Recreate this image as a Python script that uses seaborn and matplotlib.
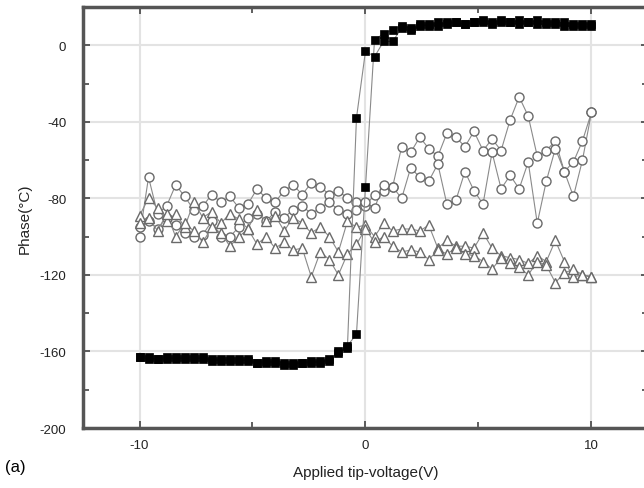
import pandas as pd
import matplotlib.pyplot as plt
import seaborn as sns
from matplotlib.ticker import MultipleLocator

# applied tip voltage (V), one sweep
voltage = [-10.0, -9.6, -9.2, -8.8, -8.4, -8.0, -7.6, -7.2, -6.8, -6.4,
           -6.0, -5.6, -5.2, -4.8, -4.4, -4.0, -3.6, -3.2, -2.8, -2.4,
           -2.0, -1.6, -1.2, -0.8, -0.4, 0.0, 0.4, 0.8, 1.2, 1.6,
           2.0, 2.4, 2.8, 3.2, 3.6, 4.0, 4.4, 4.8, 5.2, 5.6,
           6.0, 6.4, 6.8, 7.2, 7.6, 8.0, 8.4, 8.8, 9.2, 9.6, 10.0]

# filled squares: forward and reverse sweep
square_fwd = [-163, -164, -164, -163, -164, -163, -163, -164, -164, -165,
              -164, -164, -165, -166, -165, -166, -167, -166, -166, -166,
              -165, -165, -160, -157, -151, -74, 3, 6, 8, 10,
              9, 11, 10, 12, 11, 12, 11, 12, 13, 12,
              13, 12, 13, 12, 13, 12, 12, 12, 11, 11, 11]
square_rev = [-163, -163, -164, -164, -163, -164, -164, -163, -165, -164,
              -165, -165, -164, -166, -166, -165, -166, -167, -166, -165,
              -166, -164, -161, -158, -38, -3, -6, 2, 2, 9,
              8, 10, 11, 10, 12, 12, 11, 12, 12, 11,
              12, 12, 11, 12, 11, 11, 11, 10, 10, 10, 10]

# open circles
circle_fwd = [-100, -69, -88, -84, -73, -79, -86, -84, -78, -82,
              -79, -85, -83, -75, -80, -82, -76, -73, -78, -72,
              -74, -78, -76, -80, -82, -84, -78, -76, -74, -53,
              -56, -48, -54, -58, -46, -48, -53, -45, -55, -49,
              -55, -39, -27, -37, -58, -55, -50, -66, -61, -50, -35]
circle_rev = [-95, -92, -96, -90, -94, -98, -100, -99, -92, -100,
              -100, -95, -90, -88, -92, -87, -90, -86, -84, -88,
              -85, -82, -86, -88, -86, -82, -85, -73, -74, -80,
              -64, -69, -71, -62, -83, -81, -66, -76, -83, -56,
              -75, -68, -75, -61, -93, -71, -54, -66, -79, -60, -35]

# open triangles
triangle_fwd = [-89, -80, -85, -92, -88, -95, -82, -90, -87, -93,
                -88, -91, -96, -86, -92, -89, -97, -90, -93, -98,
                -95, -100, -108, -92, -95, -94, -100, -93, -97, -96,
                -96, -97, -94, -106, -102, -105, -105, -106, -98, -106,
                -110, -111, -112, -114, -110, -113, -102, -113, -121, -120, -121]
triangle_rev = [-93, -90, -97, -88, -100, -93, -97, -103, -95, -98,
                -105, -100, -96, -104, -100, -106, -103, -107, -106, -121,
                -108, -112, -120, -109, -104, -96, -103, -100, -105, -108,
                -107, -108, -112, -107, -109, -106, -109, -110, -113, -117,
                -111, -114, -116, -120, -113, -115, -124, -119, -117, -120, -121]


def loop(fwd, rev):
    # forward sweep -10 -> 10, then back 10 -> -10
    v = voltage + voltage[::-1]
    p = fwd + rev[::-1]
    return pd.DataFrame({"V": v, "phase": p})


sns.set_style("white")
plt.rcParams["font.family"] = ["Liberation Sans", "DejaVu Sans"]
plt.rcParams["axes.unicode_minus"] = False

fig = plt.figure(figsize=(6.44, 4.89), dpi=100)
ax = fig.add_axes([83 / 644, 1 - 429 / 489, 565 / 644, 421 / 489])

line_col = "#8a8a8a"
for fwd, rev, mk in [(circle_fwd, circle_rev, "o"), (triangle_fwd, triangle_rev, "^")]:
    sns.lineplot(data=loop(fwd, rev), x="V", y="phase", sort=False, estimator=None,
                 ax=ax, color=line_col, lw=0.8, marker=mk, markersize=6.5,
                 markerfacecolor="white", markeredgecolor="#6a6a6a",
                 markeredgewidth=1.0, zorder=2)

sns.lineplot(data=loop(square_fwd, square_rev), x="V", y="phase", sort=False,
             estimator=None, ax=ax, color=line_col, lw=0.8, marker="s",
             markersize=5.5, markerfacecolor="black", markeredgecolor="black",
             markeredgewidth=0.5, zorder=3)

ax.set_xlim(-12.5, 12.5)
ax.set_ylim(-200, 20)
ax.xaxis.set_major_locator(MultipleLocator(10))
ax.xaxis.set_minor_locator(MultipleLocator(5))
ax.yaxis.set_major_locator(MultipleLocator(40))
ax.yaxis.set_minor_locator(MultipleLocator(20))
ax.grid(True, which="major", color="#e3e3e3", lw=1.5, zorder=0)
ax.set_axisbelow(True)

ax.tick_params(which="both", direction="in", top=True, right=True, bottom=True,
               left=True, color="#444444", labelcolor="#222222", labelsize=9.5)
ax.tick_params(which="major", length=5, width=1.2)
ax.tick_params(which="minor", length=4, width=1.2)
ax.tick_params(axis="x", pad=8)
ax.tick_params(axis="y", pad=12)
for s in ax.spines.values():
    s.set_color("#555555")
    s.set_linewidth(2.5)

ax.set_xlabel("Applied tip-voltage(V)", fontsize=11, color="#222222", labelpad=10)
ax.set_ylabel("Phase(\u00b0C)", fontsize=11, color="#222222", labelpad=6)
fig.text(5 / 644, 1 - 468 / 489, "(a)", fontsize=12, color="black", va="center")

fig.savefig("out.png", dpi=100)
